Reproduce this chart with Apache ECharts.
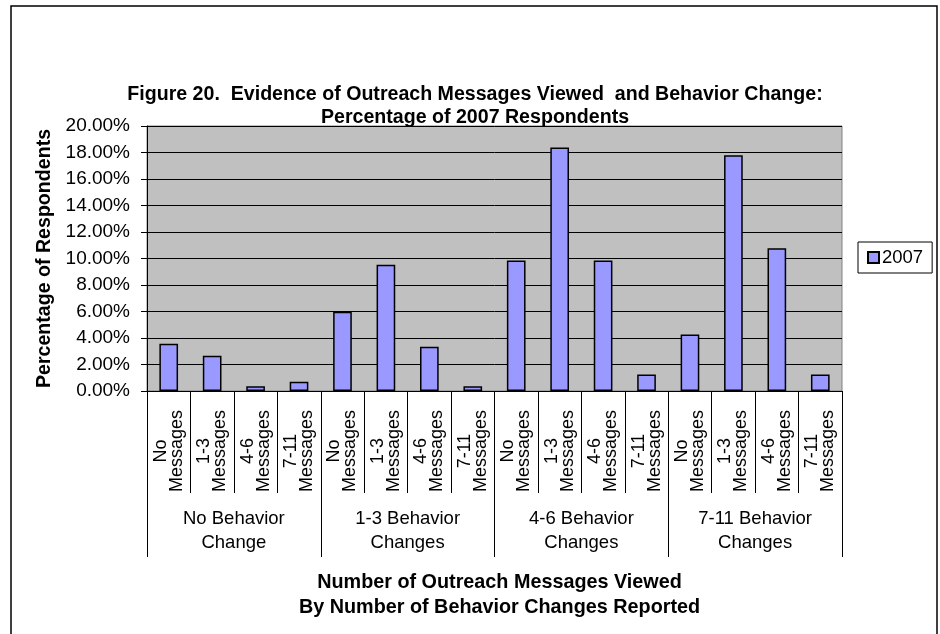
<!DOCTYPE html>
<html>
<head>
<meta charset="utf-8">
<script src="https://cdn.jsdelivr.net/npm/echarts@6/dist/echarts.min.js"></script>
<style>
html, body { margin: 0; padding: 0; background: #fff; }
#main { width: 940px; height: 634px; }
</style>
</head>
<body>
<div id="main"></div>
<script>
// message categories, repeated for each behavior-change group
var messages = ['No\nMessages', '1-3\nMessages', '4-6\nMessages', '7-11\nMessages',
                'No\nMessages', '1-3\nMessages', '4-6\nMessages', '7-11\nMessages',
                'No\nMessages', '1-3\nMessages', '4-6\nMessages', '7-11\nMessages',
                'No\nMessages', '1-3\nMessages', '4-6\nMessages', '7-11\nMessages'];
var groups = ['No Behavior\nChange', '1-3 Behavior\nChanges', '4-6 Behavior\nChanges', '7-11 Behavior\nChanges'];
// percent of 2007 respondents
var values2007 = [3.57, 2.66, 0.35, 0.70,
                  5.98, 9.53, 3.34, 0.35,
                  9.84, 18.37, 9.84, 1.24,
                  4.26, 17.79, 10.77, 1.24];

var FONT = 'Liberation Sans, Arial, sans-serif';

var myChart = echarts.init(document.getElementById('main'));
var option = {
    animation: false,
    textStyle: { fontFamily: FONT, color: '#000' },
    title: [
        {
            text: 'Figure 20.  Evidence of Outreach Messages Viewed  and Behavior Change:\nPercentage of 2007 Respondents',
            left: 470, top: 78, textAlign: 'center',
            textStyle: { fontFamily: FONT, fontSize: 19.6, fontWeight: 'bold', color: '#000', lineHeight: 23 }
        },
        {
            text: 'Number of Outreach Messages Viewed\nBy Number of Behavior Changes Reported',
            left: 494.5, top: 565, textAlign: 'center',
            textStyle: { fontFamily: FONT, fontSize: 19.8, fontWeight: 'bold', color: '#000', lineHeight: 25 }
        }
    ],
    legend: {
        data: ['2007'],
        left: 858, top: 242,
        orient: 'vertical',
        padding: [6, 9, 6, 9],
        borderColor: '#000', borderWidth: 1,
        itemWidth: 11, itemHeight: 11, itemGap: 4,
        icon: 'rect',
        textStyle: { fontFamily: FONT, fontSize: 18.5, color: '#000', padding: [0, 0, 0, -2] }
    },
    grid: {
        left: 147, right: 98, top: 126, bottom: 243,
        show: true, backgroundColor: '#C0C0C0', borderColor: '#808080', borderWidth: 1
    },
    xAxis: [
        {
            type: 'category',
            data: messages,
            position: 'bottom',
            axisLine: { show: true, lineStyle: { color: '#000', width: 1 } },
            axisTick: { show: true, interval: 0, length: 102, lineStyle: { color: '#000' } },
            axisLabel: {
                interval: 0, rotate: 90, align: 'center', verticalAlign: 'middle',
                margin: 60, fontSize: 18, lineHeight: 16, color: '#000', fontFamily: FONT
            }
        },
        {
            type: 'category',
            data: groups,
            position: 'bottom',
            axisLine: { show: false },
            axisTick: { show: true, interval: 0, length: 166, lineStyle: { color: '#000' } },
            axisLabel: {
                interval: 0, margin: 116, verticalAlign: 'top',
                fontSize: 18.5, lineHeight: 24, color: '#000', fontFamily: FONT
            }
        }
    ],
    yAxis: {
        type: 'value',
        min: 0, max: 20, interval: 2,
        name: 'Percentage of Respondents',
        nameLocation: 'middle', nameRotate: 90, nameGap: 89,
        nameTextStyle: { fontFamily: FONT, fontSize: 19.6, fontWeight: 'bold', color: '#000' },
        axisLine: { show: true, lineStyle: { color: '#000' } },
        axisTick: { show: true, length: 6, lineStyle: { color: '#000' } },
        axisLabel: {
            margin: 17, fontSize: 19, color: '#000', fontFamily: FONT,
            formatter: function (v) { return v.toFixed(2) + '%'; }
        },
        splitLine: { show: true, lineStyle: { color: '#000', width: 1 } }
    },
    series: [
        {
            name: '2007',
            type: 'bar',
            xAxisIndex: 0,
            data: values2007,
            barWidth: '43%',
            itemStyle: { color: '#9999FF', borderColor: '#000', borderWidth: 1.5 }
        }
    ],
    graphic: [
        {
            type: 'rect', silent: true, z: 100,
            shape: { x: 11, y: 6, width: 926, height: 640 },
            style: { fill: 'none', stroke: '#000', lineWidth: 1.5 }
        }
    ]
};
myChart.setOption(option);
</script>
</body>
</html>
